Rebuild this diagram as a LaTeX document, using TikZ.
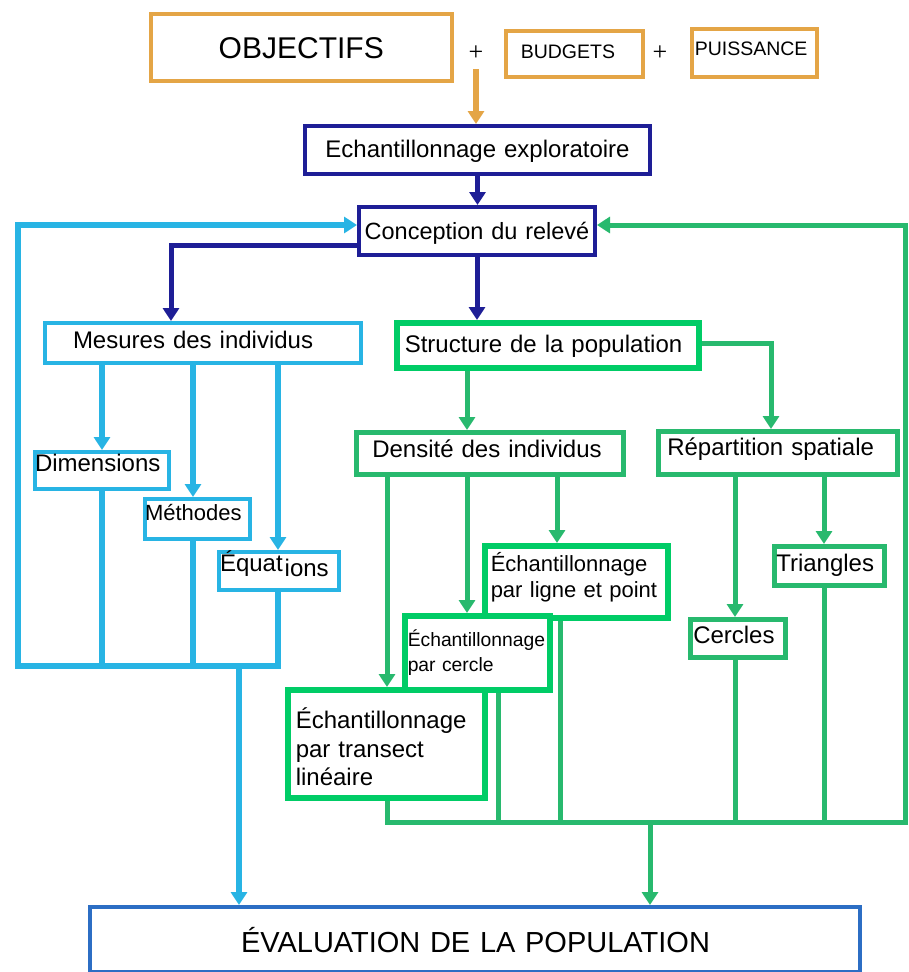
\documentclass[tikz,border=0pt]{standalone}
\usepackage{fontspec}
\setmainfont{Liberation Sans}
\newfontfamily\serifplus{Liberation Serif}
\usetikzlibrary{arrows.meta}
\pgfdeclarelayer{bg}
\pgfsetlayers{bg,main}
\newcommand\fs[2]{\fontsize{#1pt}{#2pt}\selectfont}
\definecolor{cOrange}{RGB}{228,165,70}
\definecolor{cNavy}{RGB}{30,30,150}
\definecolor{cLB}{RGB}{40,180,228}
\definecolor{cG}{RGB}{40,185,110}
\definecolor{cBG}{RGB}{0,204,102}
\definecolor{cEva}{RGB}{44,110,196}
\begin{document}
\begin{tikzpicture}[x=1pt,y=-1pt,
  bxs/.style={draw, fill=white, anchor=north west, inner ysep=0pt, align=left},
  geo/.style n args={4}{text width=#1pt, inner xsep=#2pt, text height=#3pt, text depth=#4pt},
  obox/.style={bxs, draw=cOrange, line width=3.5},
  nbox/.style={bxs, draw=cNavy, line width=4},
  lbox/.style={bxs, draw=cLB, line width=4},
  gbox/.style={bxs, draw=cG, line width=4.5},
  bgbox/.style={bxs, draw=cBG, line width=5.5},
  ebox/.style={bxs, draw=cEva, line width=4},
  plus/.style={font=\serifplus\fs{26}{30}, inner sep=0pt},
  arr/.style={-{Triangle[width=16pt,length=13pt]}},
  oconn/.style={draw=cOrange, line width=6, line cap=rect},
  nconn/.style={draw=cNavy, line width=5, line cap=rect},
  lconn/.style={draw=cLB, line width=5.5, line cap=rect},
  gconn/.style={draw=cG, line width=5, line cap=rect},
]
\useasboundingbox (0,0) rectangle (909,972);

% ---- boxes ----
\node[obox, align=center, geo={301}{0}{45}{22}, font=\fs{30}{36}] (obj) at (149,12) {OBJECTIFS};
\node[plus] (p1) at (476,53) {+};
\node[plus] (p2) at (660,53) {+};
\node[obox, geo={107}{15}{28}{18}, font=\fs{19.5}{23}] (bud) at (504,29) {BUDGETS};
\node[obox, geo={119}{3}{27}{21}, font=\fs{19.5}{23}] (pui) at (690,27) {PUISSANCE};
\node[nbox, align=center, geo={345}{0}{31}{17}, font=\fs{24}{28}] (ech) at (303,124) {Echantillonnage exploratoire};
\node[nbox, align=center, geo={236}{0}{32}{16}, font=\fs{23.5}{28}] (conc) at (357,205) {Conception du relevé};
\node[lbox, geo={260}{28}{25}{15}, font=\fs{24}{28}] (mes) at (43,321) {Mesures des individus};
\node[bgbox, geo={286}{8}{30}{15}, font=\fs{24}{28}] (str) at (394,320) {Structure de la population};
\node[lbox, geo={134}{0}{19}{18}, font=\fs{24}{28}] (dim) at (33,450) {Dimensions};
\node[lbox, geo={105}{0}{21}{19}, font=\fs{22}{26}] (met) at (143,497) {Méthodes};
\node[lbox, geo={118}{1}{19}{19}, font=\fs{24}{28}] (equ) at (217,550) {Équat\kern2pt\raisebox{-5pt}{ions}};
\node[gbox, geo={235}{16}{25}{17}, font=\fs{24}{28}] (den) at (354,430) {Densité des individus};
\node[gbox, geo={221}{9}{24}{19}, font=\fs{24}{28}] (rep) at (656,429) {Répartition spatiale};
\node[bgbox, geo={171}{6}{26}{46}, font=\fs{22}{26}] (lig) at (482,543) {Échantillonnage\\par ligne et point};
\node[bgbox, geo={139}{3}{31}{43}, font=\fs{19.3}{25}] (cer) at (402,613) {Échantillonnage\\par cercle};
\node[bgbox, geo={181}{8}{39}{69}, font=\fs{24}{28.5}] (tra) at (285,687) {Échantillonnage\\par transect\\linéaire};
\node[gbox, geo={106}{2}{25}{14}, font=\fs{24}{28}] (tri) at (772,544) {Triangles};
\node[gbox, geo={89}{3}{24}{14}, font=\fs{24}{28}] (cls) at (688,617) {Cercles};
\node[ebox, geo={770}{0}{45}{20}, font=\fs{29}{34}] (eva) at (88,905) {\hspace*{151pt}ÉVALUATION DE LA POPULATION};

% ---- connectors ----
\begin{pgfonlayer}{bg}
\fill[white] (0,0) rectangle (909,972);
\coordinate (oa) at (476,72);
\draw[oconn, arr] (oa) -- (oa |- ech.north);
\draw[nconn, arr] (ech.south) -- (ech.south |- conc.north);
\coordinate (nb) at (171,245);
\draw[nconn, arr] (conc.west |- nb) -| (nb |- mes.north);
\draw[nconn, arr] (conc.south) -- (conc.south |- str.north);
% light blue
\coordinate (lbT) at (18,225);
\coordinate (lbB) at (18,666);
\coordinate (lbR) at (278,666);
\draw[lconn, arr] (lbR) -- (lbB) |- (conc.west |- lbT);
\coordinate (xd) at (102,0);
\coordinate (xm) at (193,0);
\coordinate (xe) at (278,0);
\draw[lconn, arr] (xd |- mes.south) -- (xd |- dim.north);
\draw[lconn] (xd |- dim.south) -- (xd |- lbB);
\draw[lconn, arr] (xm |- mes.south) -- (xm |- met.north);
\draw[lconn] (xm |- met.south) -- (xm |- lbB);
\draw[lconn, arr] (xe |- mes.south) -- (xe |- equ.north);
\draw[lconn] (xe |- equ.south) -- (xe |- lbB);
\coordinate (ld) at (239,666);
\draw[lconn, arr] (ld) -- (ld |- eva.north);
% green
\coordinate (gT) at (905,225);
\coordinate (gB) at (905,822);
\coordinate (gL) at (387,822);
\draw[gconn, arr] (gL) -- (gB) |- (conc.east |- gT);
\coordinate (sr) at (771,343);
\draw[gconn, arr] (str.east |- sr) -| (sr |- rep.north);
\coordinate (x1) at (467,0);
\coordinate (x2) at (387,0);
\coordinate (x3) at (557,0);
\coordinate (x4) at (735,0);
\coordinate (x5) at (824,0);
\coordinate (x6) at (498,0);
\coordinate (x7) at (560,0);
\draw[gconn, arr] (x1 |- str.south) -- (x1 |- den.north);
\draw[gconn, arr] (x2 |- den.south) -- (x2 |- tra.north);
\draw[gconn, arr] (x1 |- den.south) -- (x1 |- cer.north);
\draw[gconn, arr] (x3 |- den.south) -- (x3 |- lig.north);
\draw[gconn, arr] (x4 |- rep.south) -- (x4 |- cls.north);
\draw[gconn, arr] (x5 |- rep.south) -- (x5 |- tri.north);
\draw[gconn] (x2 |- tra.south) -- (x2 |- gL);
\draw[gconn] (x6 |- cer.south) -- (x6 |- gL);
\draw[gconn] (x7 |- lig.south) -- (x7 |- gL);
\draw[gconn] (x4 |- cls.south) -- (x4 |- gL);
\draw[gconn] (x5 |- tri.south) -- (x5 |- gL);
\coordinate (gd) at (650,822);
\draw[gconn, arr] (gd) -- (gd |- eva.north);
\end{pgfonlayer}
\end{tikzpicture}
\end{document}
